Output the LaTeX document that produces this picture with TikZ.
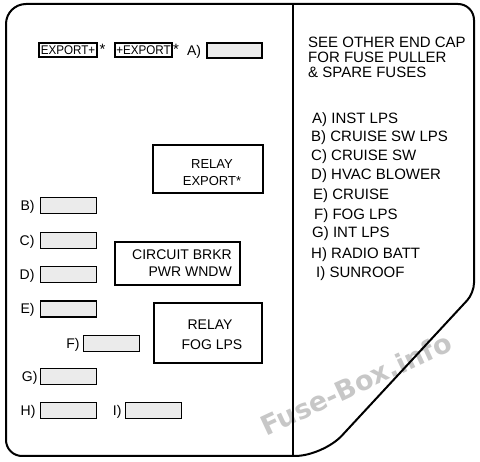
\documentclass[tikz,border=0pt]{standalone}
\usepackage{fontspec}
\setmainfont{Liberation Sans}
\newfontfamily\wmfont{DejaVu Sans}
\begin{document}
\begin{tikzpicture}[x=1pt,y=-1pt,
  fuse/.style={draw, line width=1.6pt, fill=black!8, minimum width=56pt, minimum height=16pt, inner sep=0pt},
  exbox/.style={draw, line width=1.6pt, inner sep=0pt, minimum height=14pt, minimum width=58pt, font=\fontsize{12}{12}\selectfont},
  relaybox/.style={draw, line width=1.8pt, inner sep=0pt},
  lbl/.style={font=\fontsize{14}{14}\selectfont, inner sep=0pt, anchor=base east},
  boxtxt/.style={font=\fontsize{14}{14}\selectfont, inner sep=0pt, anchor=base},
  legend/.style={font=\fontsize{15}{15}\selectfont, inner sep=0pt, anchor=base west},
  star/.style={font=\fontsize{15}{15}\selectfont, inner sep=0pt, anchor=north west},
  outline/.style={line width=2pt, line join=round}
]
\useasboundingbox (0,0) rectangle (480,462);
% watermark
\node[rotate=25, text=black!22, font=\wmfont\bfseries\fontsize{27}{27}\selectfont] (wm) at (356,384) {Fuse-Box.info};
% outline of the cap
\draw[outline] (6,240) [rounded corners=20] -- (6,4) -- (240,4) [rounded corners=16] -- (474,4) -- (474,150) [rounded corners=10] -- (474,293) -- (398.5,374.5) [rounded corners=28] -- (323,456) -- (150,456) [rounded corners=16] -- (6,456) -- cycle;
\coordinate (divtop) at (293,4);
\coordinate (divbot) at (293,456);
\draw[outline] (divtop) -- (divbot);
% export plugs
\node[exbox] (exp1) at (68,50) {\scalebox{0.97}[1.05]{EXPORT+}};
\node[star] (st1) at (99.5,43.5) {*};
\node[exbox, minimum width=57pt] (exp2) at (143.5,50) {\scalebox{0.97}[1.05]{+EXPORT}};
\node[star] (st2) at (173,43.5) {*};
% fuses
\node[fuse, minimum width=55pt, minimum height=15pt] (fa) at (234.5,50.5) {};
\node[fuse] (fb) at (68.5,205.5) {};
\node[fuse] (fc) at (68.5,240.5) {};
\node[fuse] (fd) at (68.5,274.5) {};
\node[fuse] (fe) at (68.5,309) {};
\node[fuse] (ff) at (111.5,343.5) {};
\node[fuse] (fg) at (68.5,376.5) {};
\node[fuse] (fh) at (68.5,410.5) {};
\node[fuse] (fi) at (153.5,410.5) {};
\node[lbl] (la) at ([xshift=-5pt,yshift=-5pt]fa.west) {A)};
\node[lbl] (lb) at ([xshift=-5pt,yshift=-5pt]fb.west) {B)};
\node[lbl] (lc) at ([xshift=-5pt,yshift=-5pt]fc.west) {C)};
\node[lbl] (ld) at ([xshift=-5pt,yshift=-5pt]fd.west) {D)};
\node[lbl] (le) at ([xshift=-5pt,yshift=-5pt]fe.west) {E)};
\node[lbl] (lf) at ([xshift=-3pt,yshift=-5pt]ff.west) {F)};
\node[lbl] (lg) at ([xshift=-2pt,yshift=-5pt]fg.west) {G)};
\node[lbl] (lh) at ([xshift=-4pt,yshift=-5pt]fh.west) {H)};
\node[lbl] (li) at ([xshift=-3pt,yshift=-5pt]fi.west) {I)};
% relays and breaker
\node[relaybox, minimum width=110pt, minimum height=48pt] (rexp) at (208,169) {};
\node[boxtxt, font=\fontsize{13}{13}\selectfont] (rexp1) at (212,169) {RELAY};
\node[boxtxt, font=\fontsize{13}{13}\selectfont] (rexp2) at (212,186) {EXPORT*};
\node[relaybox, minimum width=125pt, minimum height=43pt] (cb) at (177.5,263.5) {};
\node[boxtxt, anchor=base east] (cb1) at (232,260) {CIRCUIT BRKR};
\node[boxtxt, anchor=base east] (cb2) at (232,277) {PWR WNDW};
\node[relaybox, minimum width=108pt, minimum height=60pt] (rfog) at (208,333) {};
\node[boxtxt] (rfog1) at (210,330) {RELAY};
\node[boxtxt] (rfog2) at (212,350) {FOG LPS};
% legend
\node[legend] (h1) at (308,48) {SEE OTHER END CAP};
\node[legend] (h2) at (308,63) {FOR FUSE PULLER};
\node[legend] (h3) at (308,78) {\& SPARE FUSES};
\node[legend] (ta) at (312,123.5) {A) INST LPS};
\node[legend] (tb) at (311,142) {B) CRUISE SW LPS};
\node[legend] (tc) at (311,161) {C) CRUISE SW};
\node[legend] (td) at (311,180) {D) HVAC BLOWER};
\node[legend] (te) at (313,200) {E) CRUISE};
\node[legend] (tf) at (314,220) {F) FOG LPS};
\node[legend] (tg) at (312,238) {G) INT LPS};
\node[legend] (th) at (311,259) {H) RADIO BATT};
\node[legend] (ti) at (316,278) {I) SUNROOF};
\end{tikzpicture}
\end{document}
